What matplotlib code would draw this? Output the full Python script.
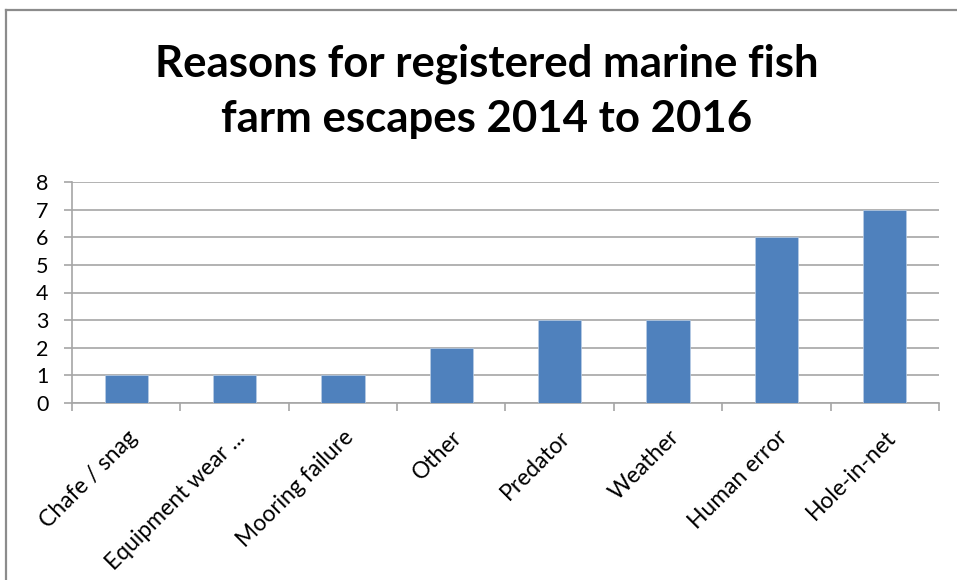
import matplotlib
matplotlib.use('Agg')
import matplotlib.pyplot as plt
import numpy as np
from matplotlib.lines import Line2D

# Данные
reasons = ["Chafe / snag", "Equipment wear ...", "Mooring failure", "Other",
           "Predator", "Weather", "Human error", "Hole-in-net"]
escapes = [1, 1, 1, 2, 3, 3, 6, 7]
y_ticks = [0, 1, 2, 3, 4, 5, 6, 7, 8]

plt.rcParams['font.family'] = ['Lato', 'DejaVu Sans']

fig = plt.figure(figsize=(9.57, 5.8), dpi=100)
ax = fig.add_axes([72 / 957, 1 - 403 / 580, (939 - 72) / 957, (403 - 182) / 580])

grid_col = '#a6a6a6'
x = np.arange(len(reasons))
ax.bar(x, escapes, width=0.4, color='#4f81bd', edgecolor='#b9cde5', linewidth=0.5, zorder=3)

ax.set_xlim(-0.5, len(reasons) - 0.5)
ax.set_ylim(0, 8)
ax.set_yticks(y_ticks)
ax.yaxis.grid(True, color=grid_col, linewidth=1.2, zorder=0)

# Подписи категорий под углом 45°
ax.set_xticks(x)
ax.set_xticklabels(reasons, rotation=45, ha='right', rotation_mode='anchor', fontsize=16.5)
ax.tick_params(axis='x', which='major', length=0, pad=17)
ax.set_xticks(np.arange(-0.5, len(reasons)), minor=True)
ax.tick_params(axis='x', which='minor', length=6, color=grid_col, width=1.2)
ax.tick_params(axis='y', length=6, color=grid_col, width=1.2, labelsize=15.5, pad=11)

for s in ['top', 'right']:
    ax.spines[s].set_visible(False)
for s in ['left', 'bottom']:
    ax.spines[s].set_color(grid_col)
    ax.spines[s].set_linewidth(1.2)

fig.text(0.509, 1 - 91 / 580, "Reasons for registered marine fish\nfarm escapes 2014 to 2016",
         ha='center', va='center', fontsize=31.5, fontweight='bold', linespacing=1.45)

# Рамка диаграммы (видны только левая и верхняя стороны)
fig.add_artist(Line2D([6 / 957, 6 / 957], [0, 1 - 10 / 580], color='#8c8c8c', linewidth=1.6,
                      transform=fig.transFigure))
fig.add_artist(Line2D([6 / 957, 1], [1 - 10 / 580, 1 - 10 / 580], color='#8c8c8c', linewidth=1.6,
                      transform=fig.transFigure))

fig.savefig('out.png', dpi=100)
